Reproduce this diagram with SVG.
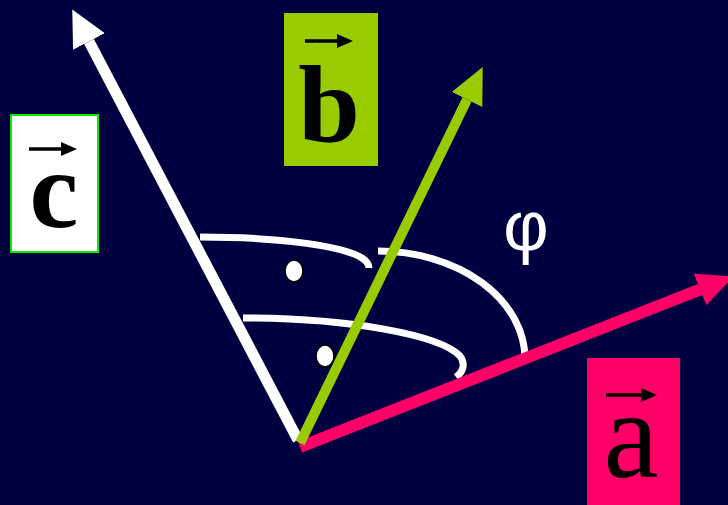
<svg xmlns="http://www.w3.org/2000/svg" width="728" height="505" viewBox="0 0 728 505">
<style>
.arc{fill:none;stroke:#fff;stroke-width:7;stroke-linecap:butt}
.dot{fill:#fff;stroke:#000;stroke-width:1.5}
.lbl{font-family:"Liberation Serif","Times New Roman",serif;fill:#000;text-anchor:middle}
.vec{stroke:#000;stroke-width:3.5;marker-end:url(#vh)}
</style>
<defs>
<marker id="hw" markerUnits="userSpaceOnUse" viewBox="0 0 36 36" markerWidth="36" markerHeight="36" refX="0" refY="18" orient="auto"><path d="M0,0 L36,18 L0,36 z" fill="#fff"/></marker>
<marker id="hg" markerUnits="userSpaceOnUse" viewBox="0 0 36 36" markerWidth="36" markerHeight="36" refX="0" refY="18" orient="auto"><path d="M0,1 L36,18 L0,35 z" fill="#99cc00"/></marker>
<marker id="hp" markerUnits="userSpaceOnUse" viewBox="0 0 36 36" markerWidth="36" markerHeight="36" refX="0" refY="18" orient="auto"><path d="M0,1 L36,18 L0,35 z" fill="#ff0066"/></marker>
<marker id="vh" markerUnits="userSpaceOnUse" viewBox="0 0 16 16" markerWidth="16" markerHeight="16" refX="2" refY="8" orient="auto"><path d="M0,1 L16,8 L0,15 z" fill="#000"/></marker>
</defs>
<rect width="728" height="505" fill="#000040"/>
<g id="arcs">
<path class="arc" d="M200,237 C285,237 345,247 362,258 C368,262 369,265 369,268"/>
<path class="arc" d="M378,251 A147,108 0 0 1 525,359"/>
<path class="arc" d="M243,318 C350,318 440,335 460,356 C466,364 463,372 456,377"/>
<ellipse class="dot" cx="294" cy="271" rx="9" ry="11"/>
<ellipse class="dot" cx="325" cy="356" rx="9" ry="11"/>
</g>
<g id="connectors">
<line x1="298" y1="440" x2="89" y2="41.5" stroke="#fff" stroke-width="11" marker-end="url(#hw)"/>
<line x1="300" y1="447" x2="700" y2="289.5" stroke="#ff0066" stroke-width="12" marker-end="url(#hp)"/>
<line x1="300" y1="443" x2="467" y2="99.5" stroke="#99cc00" stroke-width="10" marker-end="url(#hg)"/>
</g>
<g id="node-c">
<rect x="11" y="115" width="87" height="137" fill="#fff" stroke="#00ee00" stroke-width="2"/>
<line class="vec" x1="29" y1="149" x2="63" y2="149"/>
<text class="lbl" x="54" y="227" font-size="110" font-weight="bold">c</text>
</g>
<g id="node-b">
<rect x="284" y="13" width="94" height="153" fill="#99cc00"/>
<line class="vec" x1="305" y1="41" x2="339" y2="41"/>
<text class="lbl" x="329" y="142" font-size="111" font-weight="bold">b</text>
</g>
<g id="node-a">
<rect x="587" y="358" width="93" height="147" fill="#ff0066"/>
<line class="vec" x1="606" y1="395" x2="643" y2="395"/>
<text class="lbl" x="631" y="477" font-size="124">a</text>
</g>
<g id="label-phi">
<text x="526" y="250" font-family="Liberation Sans, Arial, sans-serif" font-size="70" fill="#fff" text-anchor="middle">φ</text>
</g>
</svg>
